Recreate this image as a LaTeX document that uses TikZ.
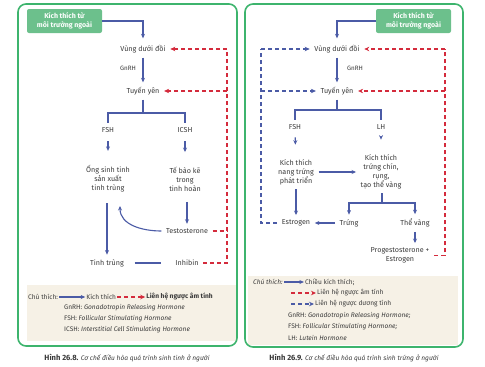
\documentclass[tikz,border=0pt]{standalone}
\usepackage{fontspec}
\setmainfont{Fira Sans}
\usetikzlibrary{arrows.meta,positioning}
\definecolor{frameg}{HTML}{3DB46D}
\definecolor{boxg}{HTML}{6CC08C}
\definecolor{arrb}{HTML}{4B5BA6}
\definecolor{fbred}{HTML}{D42B3C}
\definecolor{txt}{HTML}{3A3A3A}
\definecolor{legbg}{HTML}{F6F1E6}
\begin{document}
\begin{tikzpicture}[x=1pt,y=-1pt,
  lbl/.style={font=\fontsize{7.2}{9}\selectfont, text=txt, inner sep=4.5pt, align=center},
  small/.style={font=\fontsize{6.3}{7}\selectfont},
  stimbox/.style={fill=boxg, rounded corners=2pt, text=white, font=\fontsize{7}{9}\selectfont\bfseries, align=center, minimum width=75pt, minimum height=24pt, inner sep=1pt},
  flow/.style={draw=arrb, line width=1.1pt, -{Stealth[length=4.5pt,width=4pt]}},
  branch/.style={draw=arrb, line width=1.1pt},
  negfb/.style={draw=fbred, line width=1.1pt, dash pattern=on 4pt off 3pt},
  posfb/.style={draw=arrb, line width=1.1pt, dash pattern=on 4pt off 3pt},
  withtip/.style={-{Stealth[length=5pt,width=4.5pt]}},
  frame/.style={draw=frameg, line width=1.6pt, rounded corners=8pt},
  legtext/.style={font=\fontsize{6.6}{8}\selectfont, text=txt, inner sep=1pt, anchor=west},
  figcap/.style={font=\fontsize{6.6}{8}\selectfont, text=txt}]
  \useasboundingbox (0,0) rectangle (485,367);
  % legend backgrounds and frames
  \fill[legbg] (27,285) rectangle (236,341);
  \fill[legbg] (248,276) rectangle (458,345);
  \draw[frame] (18,4) rectangle (237,346);
  \draw[frame] (245,4) rectangle (463,347);

  % left: sinh tinh
  \node[stimbox] (kt1) at (64.5,21) {Kích thích từ\\môi trường ngoài};
  \node[lbl] (vdd1) at (143,49) {Vùng dưới đồi};
  \node[lbl, small] (gnrh1) at (128,68) {GnRH};
  \node[lbl] (ty1) at (143,91) {Tuyến yên};
  \node[lbl] (fsh1) at (108,130) {FSH};
  \node[lbl] (icsh1) at (185,130) {ICSH};
  \node[lbl] (ong) at (108,179) {Ống sinh tinh\\sản xuất\\tinh trùng};
  \node[lbl] (tbk) at (185,179) {Tế bào kẽ\\trong\\tinh hoàn};
  \node[lbl] (testo) at (187,231) {Testosterone};
  \node[lbl] (tt) at (107,263) {Tinh trùng};
  \node[lbl] (inh) at (187,263) {Inhibin};
  \coordinate (br1) at (143,113);
  \coordinate (ongin) at (120,206);
  \coordinate (fb1top) at (227,49);
  \draw[flow, shorten >=2pt] (kt1.east) -| (vdd1.north);
  \draw[flow] (vdd1) -- (ty1);
  \draw[branch] (ty1.south) -- (br1);
  \draw[branch] (fsh1.north) |- (br1) -| (icsh1.north);
  \draw[flow, shorten <=4pt, shorten >=10pt] (fsh1) -- (ong);
  \draw[flow, shorten <=4pt, shorten >=10pt] (icsh1) -- (tbk);
  \draw[flow, shorten <=6pt] (ong.south -| tt) -- (tt);
  \draw[flow, shorten <=6pt] (tbk.south -| testo) -- (testo);
  \draw[flow] (testo.west) to[out=180, in=-90] (ongin);
  \draw[branch, shorten <=6pt, shorten >=10pt] (tt) -- (inh);
  \draw[negfb] (inh.east) -- (inh.east -| fb1top) -- (fb1top);
  \draw[negfb, withtip] (fb1top) -- (vdd1.east);
  \draw[negfb] (testo.east) -- (testo.east -| fb1top);
  \draw[negfb, withtip] (ty1.east -| fb1top) -- (ty1.east);

  % right: sinh trung
  \node[stimbox] (kt2) at (413.5,21) {Kích thích từ\\môi trường ngoài};
  \node[lbl] (vdd2) at (337,49) {Vùng dưới đồi};
  \node[lbl, small] (gnrh2) at (355,68) {GnRH};
  \node[lbl] (ty2) at (337,91) {Tuyến yên};
  \node[lbl] (fsh2) at (295,127) {FSH};
  \node[lbl] (lh2) at (381,127) {LH};
  \node[lbl] (nang) at (296,172) {Kích thích\\nang trứng\\phát triển};
  \node[lbl] (chin) at (381,171.5) {Kích thích\\trứng chín,\\rụng,\\tạo thể vàng};
  \node[lbl] (estr) at (296,223) {Estrogen};
  \node[lbl] (trung) at (349,223) {Trứng};
  \node[lbl] (tv) at (415,223) {Thể vàng};
  \node[lbl] (prog) at (400,255.5) {Progestosterone +\\Estrogen};
  \coordinate (br2) at (337,110);
  \coordinate (br3) at (382,203);
  \coordinate (fb2top) at (445,49);
  \coordinate (pf2top) at (261,49);
  \draw[flow, shorten >=2pt] (kt2.west) -| (vdd2.north);
  \draw[flow] (vdd2) -- (ty2);
  \draw[branch] (ty2.south) -- (br2);
  \draw[branch] (fsh2.north) |- (br2) -| (lh2.north);
  \draw[flow, shorten <=3pt, shorten >=10pt] (fsh2) -- (nang);
  \draw[flow, shorten <=3pt, shorten >=10pt] (lh2) -- (chin);
  \draw[flow] (nang.east) -- (nang.east -| chin.west);
  \draw[flow] (nang) -- (estr);
  \draw[branch] (chin.south -| br3) -- (br3);
  \draw[flow] (br3) -| (trung);
  \draw[flow] (br3) -| (tv);
  \draw[flow] (trung) -- (estr);
  \draw[flow] (tv) -- (tv |- prog.north);
  \draw[negfb] (prog.east) -- (prog.east -| fb2top) -- (fb2top);
  \draw[negfb, withtip] (fb2top) -- (vdd2);
  \draw[negfb, withtip] (ty2 -| fb2top) -- (ty2);
  \draw[posfb] (estr) -- (estr -| pf2top) -- (pf2top);
  \draw[posfb, withtip] (pf2top) -- (vdd2);
  \draw[posfb, withtip] (ty2 -| pf2top) -- (ty2);

  % legends
  \node[legtext] (ch1) at (27,297) {Chú thích:};
  \node[legtext, right=26pt of ch1] (kich1) {Kích thích};
  \draw[flow] (ch1) -- (kich1);
  \node[legtext, right=28pt of kich1, font=\fontsize{6.6}{8}\selectfont\bfseries] (am1) {Liên hệ ngược âm tính};
  \draw[negfb, withtip] (kich1) -- (am1);
  \node[legtext] (g1) at (63,308) {GnRH: \textit{Gonadotropin Releasing Hormone}};
  \node[legtext] (f1) at (63,319) {FSH: \textit{Follicular Stimulating Hormone}};
  \node[legtext] (i1) at (63,330) {ICSH: \textit{Interstitial Cell Stimulating Hormone}};

  \node[legtext] (ch2) at (252,282) {\textit{Chú thích:}};
  \node[legtext, right=20pt of ch2] (kich2) {Chiều kích thích;};
  \draw[flow] (ch2) -- (kich2);
  \coordinate (am2s) at (291,293);
  \node[legtext] (am2) at (316,293) {Liên hệ ngược âm tính};
  \draw[negfb, withtip] (am2s) -- (am2);
  \coordinate (du2s) at (291,304);
  \node[legtext] (du2) at (314,304) {Liên hệ ngược dương tính};
  \draw[posfb, withtip] (du2s) -- (du2);
  \node[legtext] (g2) at (287,316) {GnRH: \textit{Gonadotropin Releasing Hormone;}};
  \node[legtext] (f2) at (287,327) {FSH: \textit{Follicular Stimulating Hormone;}};
  \node[legtext] (l2) at (287,338) {LH: \textit{Lutein Hormone}};

  % captions
  \node[figcap] (cap1) at (127,358) {{\fontsize{7.6}{8}\selectfont\bfseries Hình 26.8.} \textit{Cơ chế điều hòa quá trình sinh tinh ở người}};
  \node[figcap] (cap2) at (354,358) {{\fontsize{7.6}{8}\selectfont\bfseries Hình 26.9.} \textit{Cơ chế điều hòa quá trình sinh trứng ở người}};
\end{tikzpicture}
\end{document}
